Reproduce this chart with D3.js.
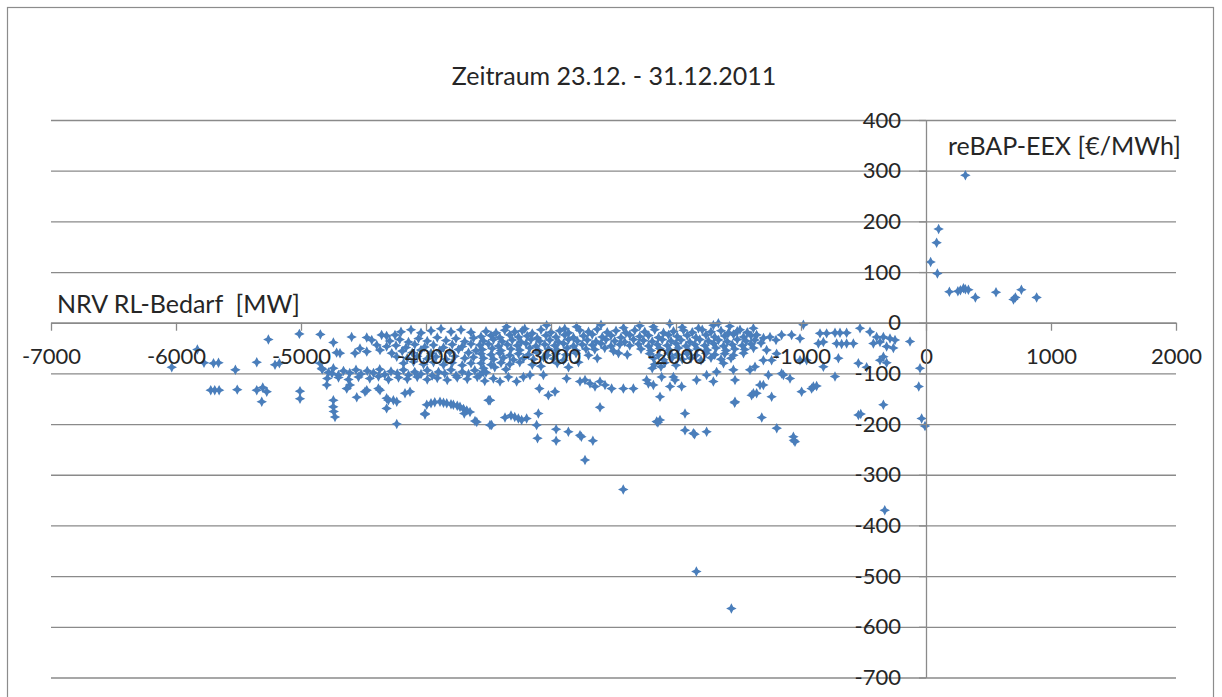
<!DOCTYPE html>
<html>
<head>
<meta charset="utf-8">
<script src="https://cdn.jsdelivr.net/npm/d3@7"></script>
<style>
body { margin: 0; background: #fff; }
text { font-family: Lato, "Open Sans", sans-serif; fill: #262626; }
</style>
</head>
<body>
<script>
const width = 1222
const height = 697

const title = 'Zeitraum 23.12. - 31.12.2011'
const xLabel = 'NRV RL-Bedarf  [MW]'
const yLabel = 'reBAP-EEX [€/MWh]'

const xTicks = [-7000, -6000, -5000, -4000, -3000, -2000, -1000, 0, 1000, 2000]
const yTicks = [400, 300, 200, 100, 0, -100, -200, -300, -400, -500, -600, -700]

// points right of the axis (positive reBAP)
const posPoints = [[37,120],[85,158],[101,185],[91,97],[315,291],[187,61],[255,62],[275,64],
  [300,68],[315,66],[339,65],[395,50],[560,60],[700,46],[715,50],[763,65],[885,50]]

// sparse points on the far left
const leftPoints = [[-6034,-88],[-5829,-53],[-5776,-79],[-5700,-80],[-5660,-79],[-5525,-93],
  [-5722,-133],[-5690,-133],[-5655,-133],[-5510,-132],[-5354,-133],[-5306,-128],[-5274,-136],
  [-5314,-156],[-5354,-78],[-5208,-83],[-5173,-80],[-5008,-135],[-5008,-150],[-5261,-33],
  [-5013,-22],[-4845,-23],[-4848,-80],[-4834,-90],[-4688,-60],[-4715,-59],[-4568,-60],[-4528,-51],
  [-4474,-57],[-4741,-39],[-4595,-28],[-4474,-29],[-4434,-34],[-4794,-123],[-4741,-153],
  [-4742,-166],[-4738,-175],[-4728,-186],[-4634,-130],[-4608,-123],[-4554,-147],[-4488,-136],
  [-4474,-133],[-4381,-130],[-4368,-133],[-4315,-149],[-4301,-153],[-4261,-153],[-4234,-156],
  [-4315,-169],[-4234,-200],[-4168,-139],[-4128,-136]]

// the arc and low points between -4000 and -2600
const arcPoints = [[-4008,-181],[-3994,-162],[-3960,-159],[-3930,-157],[-3888,-156],[-3860,-158],
  [-3834,-159],[-3800,-161],[-3781,-162],[-3750,-164],[-3728,-166],[-3700,-170],[-3674,-173],
  [-3648,-176],[-3694,-179],[-4008,-179],[-3608,-194],[-3594,-196],[-3488,-202],[-3501,-153],
  [-3475,-202],[-3368,-187],[-3320,-183],[-3290,-186],[-3261,-189],[-3235,-192],[-3195,-189],
  [-3101,-179],[-3115,-202],[-3108,-228],[-2959,-210],[-2959,-233],[-2861,-215],[-2768,-222],
  [-2757,-225],[-2665,-233],[-2728,-271],[-2608,-167],[-3488,-153]]

// scattered points between -100 and -240
const midLowPoints = [[-3541,-97],[-3461,-110],[-3408,-116],[-3341,-107],[-3275,-116],[-3221,-107],
  [-3168,-103],[-3093,-130],[-3061,-103],[-3021,-143],[-2968,-136],[-2875,-110],[-2768,-116],
  [-2728,-113],[-2688,-120],[-2648,-126],[-2608,-116],[-2568,-123],[-2515,-130],[-2421,-130],
  [-2341,-130],[-2221,-120],[-2128,-146],[-2115,-107],[-2048,-126],[-2021,-107],[-1835,-113],
  [-1755,-103],[-1701,-116],[-1675,-97],[-3488,-153],[-2128,-192],[-2155,-195],[-2145,-197],
  [-1928,-179],[-1928,-212],[-1861,-218],[-1851,-220],[-1755,-215],[-1531,-158],[-1314,-187],
  [-1194,-208],[-1061,-225],[-1057,-232],[-1048,-235],[-901,-126],[-995,-136],[-915,-130],
  [-875,-125],[-1235,-146],[-1301,-123],[-1355,-139],[-1395,-143],[-1528,-113],[-1528,-156],
  [-1955,-126],[-2008,-113],[-2235,-113],[-2181,-123],[-1141,-103],[-1088,-110],[-1155,-100],
  [-1368,-87],[-1261,-103],[-1541,-93],[-1408,-93],[-1328,-123],[-1381,-139],[-728,-106],
  [-821,-87]]

// points next to the axis and the big outliers
const axisPoints = [[-48,-90],[-58,-126],[-35,-189],[-8,-204],[-128,-37],[-341,-162],[-541,-182],
  [-522,-180],[-330,-370],[-541,-80],[-475,-88],[-368,-74],[-2422,-329],[-1837,-491],[-1557,-564]]

// points between -1000 and 0 above -90
const rightBandPoints = [[-981,-4],[-848,-21],[-795,-21],[-728,-20],[-688,-20],[-635,-20],[-528,-11],
  [-448,-18],[-395,-28],[-341,-28],[-288,-31],[-248,-34],[-861,-41],[-821,-38],[-715,-41],
  [-675,-42],[-635,-41],[-581,-41],[-421,-41],[-368,-38],[-315,-47],[-261,-50],[-341,-67],
  [-315,-79],[-701,-70],[-1008,-74],[-955,-74],[-1195,-61],[-1301,-74],[-1235,-74]]

// second band around -100, left part
const lowerBandPoints = [[-4830,-92],[-4780,-98],[-4752,-100],[-4741,-90],[-4701,-103],[-4660,-95],
  [-4610,-99],[-4560,-93],[-4520,-101],[-4470,-95],[-4420,-99],[-4370,-92],[-4330,-102],
  [-4280,-96],[-4230,-100],[-4180,-93],[-4140,-103],[-4090,-97],[-4040,-101],[-3990,-94],
  [-3950,-104],[-3900,-97],[-3850,-100],[-3800,-93],[-3760,-104],[-3710,-97],[-3660,-101],
  [-3610,-94],[-3570,-103],[-3520,-98],[-4790,-110],[-4700,-108],[-4620,-112],[-4540,-107],
  [-4450,-110],[-4380,-106],[-4300,-112],[-4220,-108],[-4150,-111],[-4070,-107],[-3990,-112],
  [-3910,-109],[-3830,-113],[-3750,-108],[-3670,-111],[-3590,-107],[-3530,-115]]

// upper band between -4400 and -3600
const upperBandPoints = [[-4355,-24],[-4315,-26],[-4248,-24],[-4200,-18],[-4120,-14],[-4040,-20],
  [-3960,-16],[-3880,-12],[-3800,-18],[-3720,-14],[-3640,-19],[-4290,-36],[-4210,-33],[-4140,-38],
  [-4060,-31],[-3990,-36],[-3910,-29],[-3840,-35],[-3760,-31],[-3690,-37],[-3620,-30],
  [-4394,-44],[-4315,-47],[-4240,-45],[-4160,-49],[-4090,-43],[-4010,-48],[-3940,-44],[-3860,-49],
  [-3790,-43],[-3710,-47],[-3640,-42],[-4368,-54],[-4274,-60],[-4190,-56],[-4110,-59],[-4040,-54],
  [-3960,-60],[-3890,-55],[-3810,-58],[-3740,-53],[-3660,-59],[-3600,-55],[-4234,-67],[-4150,-70],
  [-4070,-66],[-3990,-71],[-3920,-67],[-3840,-72],[-3770,-66],[-3690,-70],[-3620,-68],
  [-4180,-80],[-4100,-77],[-4020,-82],[-3940,-78],[-3860,-83],[-3790,-79],[-3710,-84],[-3640,-80]]

// the dense core between -3600 and -1300
const corePoints = [[-3355,-8],[-3035,-5],[-2795,-8],[-2600,-4],[-2420,-10],[-2181,-8],[-2050,-2],
  [-1950,-9],[-1701,-5],[-1661,-1],[-1488,-14],[-1381,-11],[-3210,-12],[-2890,-12],[-2290,-6],
  [-1820,-11],[-1570,-7],
  [-3520,-17],[-3440,-20],[-3370,-15],[-3290,-18],[-3230,-16],[-3150,-21],[-3080,-14],[-3000,-19],
  [-2930,-16],[-2860,-20],[-2770,-15],[-2700,-18],[-2630,-13],[-2550,-19],[-2480,-16],[-2400,-20],
  [-2330,-15],[-2250,-18],[-2170,-14],[-2100,-20],[-2020,-17],[-1940,-15],[-1870,-19],[-1790,-14],
  [-1720,-18],[-1640,-16],[-1580,-20],[-1510,-17],[-1430,-19],[-1355,-24],[-1248,-28],[-1155,-24],
  [-1075,-24],
  [-3560,-27],[-3480,-25],[-3410,-29],[-3330,-24],[-3260,-28],[-3190,-26],[-3110,-30],[-3040,-25],
  [-2960,-28],[-2890,-24],[-2820,-29],[-2740,-26],[-2670,-23],[-2590,-28],[-2520,-25],[-2440,-29],
  [-2370,-24],[-2290,-27],[-2220,-25],[-2140,-29],[-2060,-24],[-1990,-27],[-1910,-25],[-1840,-29],
  [-1760,-24],[-1690,-28],[-1610,-26],[-1540,-23],[-1460,-28],[-1400,-25],[-1300,-30],[-1200,-34],
  [-1008,-31],
  [-3540,-36],[-3460,-33],[-3390,-37],[-3310,-34],[-3240,-38],[-3160,-33],[-3090,-36],[-3010,-34],
  [-2940,-38],[-2860,-33],[-2790,-36],[-2710,-34],[-2640,-37],[-2560,-33],[-2490,-36],[-2410,-38],
  [-2340,-33],[-2260,-35],[-2190,-37],[-2110,-33],[-2040,-36],[-1960,-34],[-1890,-38],[-1810,-33],
  [-1740,-36],[-1660,-34],[-1590,-37],[-1510,-33],[-1440,-36],[-1370,-34],[-1320,-40],
  [-3570,-44],[-3500,-42],[-3420,-46],[-3350,-43],[-3270,-45],[-3200,-41],[-3120,-46],[-3050,-43],
  [-2970,-45],[-2900,-41],[-2820,-46],[-2750,-43],[-2670,-44],[-2600,-41],[-2520,-46],[-2450,-43],
  [-2370,-45],[-2300,-42],[-2220,-46],[-2150,-43],[-2070,-45],[-2000,-41],[-1920,-46],[-1850,-43],
  [-1770,-45],[-1700,-41],[-1620,-46],[-1550,-43],[-1470,-45],[-1400,-42],[-1275,-54],
  [-3550,-53],[-3470,-51],[-3400,-55],[-3320,-52],[-3250,-54],[-3170,-50],[-3100,-55],[-3020,-52],
  [-2950,-54],[-2870,-50],[-2800,-55],[-2720,-52],[-2650,-53],[-2570,-50],[-2500,-56],[-2280,-52],
  [-2200,-55],[-2130,-51],[-2050,-54],[-1980,-50],[-1900,-55],[-1830,-52],[-1750,-54],[-1680,-50],
  [-1600,-55],[-1530,-52],[-1450,-53],[-1380,-50],
  [-3560,-61],[-3480,-63],[-3410,-60],[-3330,-64],[-3260,-61],[-3180,-63],[-3110,-59],[-3030,-64],
  [-2960,-61],[-2880,-63],[-2800,-60],[-2700,-64],[-2460,-60],[-2390,-63],[-2210,-61],[-2140,-64],
  [-2060,-60],[-1990,-63],[-1910,-61],[-1840,-64],[-1760,-60],[-1690,-63],[-1610,-61],[-1540,-64],
  [-1460,-60],
  [-3540,-70],[-3460,-72],[-3380,-69],[-3300,-73],[-3220,-70],[-3140,-72],[-3060,-68],[-2980,-71],
  [-2900,-74],[-2630,-70],[-2180,-70],[-2100,-73],[-2030,-69],[-1950,-72],[-1880,-70],[-1800,-74],
  [-1720,-69],[-1640,-72],[-1560,-70],
  [-3560,-80],[-3480,-83],[-3400,-79],[-3330,-82],[-3250,-78],[-3150,-83],[-2950,-80],[-2780,-78],
  [-2170,-82],[-2090,-79],[-2000,-84],[-1620,-80],[-3540,-90],[-3450,-88],[-3360,-92],[-3080,-86],
  [-2860,-88],[-2190,-90],[-2120,-87]]

const allPoints = [].concat(leftPoints, upperBandPoints, lowerBandPoints, corePoints,
  rightBandPoints, midLowPoints, arcPoints, axisPoints, posPoints)

const svg = d3.select('body').append('svg')
    .attr('width', width)
    .attr('height', height)

// chart frame
svg.append('rect')
    .attr('x', 7.5).attr('y', 7.5)
    .attr('width', 1206).attr('height', 740)
    .style('fill', 'none')
    .style('stroke', '#8c8c8c')
    .style('stroke-width', 1.2)

const x = d3.scaleLinear().domain([-7000, 2000]).range([51, 1176])
const y = d3.scaleLinear().domain([-700, 400]).range([677.5, 120])

// horizontal gridlines
const grid = svg.append('g')
    .attr('transform', `translate(${x(-7000)},0)`)
    .call(d3.axisRight(y).tickValues(yTicks).tickSize(x(2000) - x(-7000)).tickFormat(''))
grid.select('.domain').remove()
grid.selectAll('line').style('stroke', '#8a8a8a').style('stroke-width', 1.3)

// scatter markers, a four pointed star like the excel marker
const star4 = {
    draw(ctx, size) {
        const r = Math.sqrt(size) / 2
        const k = r * 0.34
        ctx.moveTo(0, -r)
        ctx.lineTo(k, -k)
        ctx.lineTo(r, 0)
        ctx.lineTo(k, k)
        ctx.lineTo(0, r)
        ctx.lineTo(-k, k)
        ctx.lineTo(-r, 0)
        ctx.lineTo(-k, -k)
        ctx.closePath()
    }
}

svg.append('g').selectAll('path')
    .data(allPoints)
    .join('path')
    .attr('transform', d => `translate(${x(d[0])},${y(d[1])})`)
    .attr('d', d3.symbol().type(star4).size(110))
    .style('fill', '#4a7ebb')

// x axis through zero
const xAxis = svg.append('g')
    .attr('transform', `translate(0,${y(0)})`)
    .call(d3.axisBottom(x).tickValues(xTicks).tickSize(8).tickSizeOuter(0).tickPadding(18)
        .tickFormat(d => String(d)))

// y axis through zero
const yAxis = svg.append('g')
    .attr('transform', `translate(${x(0)},0)`)
    .call(d3.axisLeft(y).tickValues(yTicks).tickSize(7).tickSizeOuter(0).tickPadding(18)
        .tickFormat(d => String(d)))

svg.selectAll('.domain, .tick line').style('stroke', '#8a8a8a').style('stroke-width', 1.3)
svg.selectAll('.tick text')
    .style('font-family', 'Lato, "Open Sans", sans-serif')
    .style('font-size', '22px')
    .style('fill', '#262626')

svg.append('text')
    .attr('x', 614).attr('y', 85)
    .attr('text-anchor', 'middle')
    .style('font-size', '25px')
    .text(title)

svg.append('text')
    .attr('x', 57).attr('y', 313)
    .style('font-size', '25px')
    .style('white-space', 'pre')
    .text(xLabel)

svg.append('text')
    .attr('x', 948).attr('y', 155)
    .style('font-size', '25px')
    .text(yLabel)
</script>
</body>
</html>
